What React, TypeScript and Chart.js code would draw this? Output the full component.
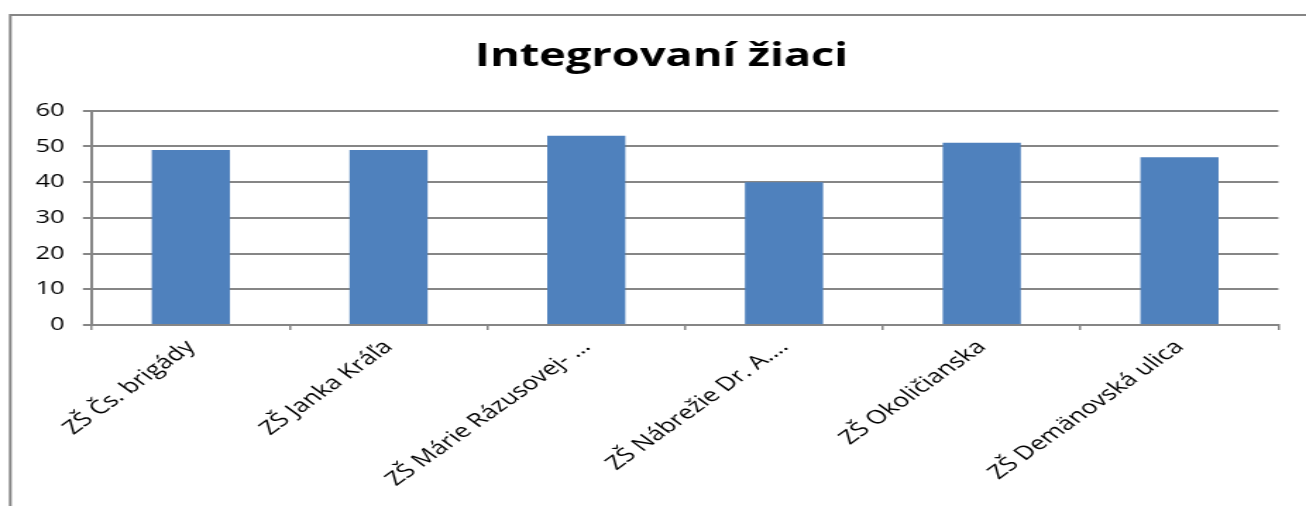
import React, { useEffect, useRef } from "react";
import { Chart, registerables } from "chart.js";

Chart.register(...registerables);

const TITLE = "Integrovaní žiaci";
const categories = [
  "ZŠ Čs. brigády",
  "ZŠ Janka Kráľa",
  "ZŠ Márie Rázusovej- …",
  "ZŠ Nábrežie Dr. A.…",
  "ZŠ Okoličianska",
  "ZŠ Demänovská ulica",
];
const values = [49, 49, 53, 40, 51, 47];
const yTicks = [0, 10, 20, 30, 40, 50, 60];

// The reference image is a chart stretched horizontally by ~1.41
const OUT_W = 1306;
const OUT_H = 506;
const BASE_W = 926;
const STRETCH = OUT_W / BASE_W;

const FONT = "'Open Sans', 'Noto Sans', sans-serif";
const GRID = "#868686";

const framePlugin = {
  id: "frame",
  beforeDraw(chart: any) {
    const ctx = chart.ctx;
    ctx.save();
    ctx.fillStyle = "#ffffff";
    ctx.fillRect(0, 0, chart.width, chart.height);
    ctx.strokeStyle = GRID;
    ctx.lineWidth = 2;
    ctx.beginPath();
    ctx.moveTo(7.3, chart.height + 10);
    ctx.lineTo(7.3, 15);
    ctx.lineTo(chart.width + 10, 15);
    ctx.stroke();
    ctx.restore();
  },
};

export default function App() {
  const ref = useRef<HTMLCanvasElement>(null);
  useEffect(() => {
    document.body.style.margin = "0";
    const chart = new Chart(ref.current!, {
      type: "bar",
      data: {
        labels: categories,
        datasets: [
          {
            data: values,
            backgroundColor: "#4F81BD",
            borderWidth: 0,
            categoryPercentage: 1,
            barPercentage: 0.395,
            yAxisID: "y",
          },
        ],
      },
      options: {
        animation: false,
        responsive: false,
        devicePixelRatio: 1,
        layout: { padding: { left: 12, right: 0, top: 0, bottom: 0 } },
        plugins: {
          legend: { display: false },
          tooltip: { enabled: false },
          title: {
            display: true,
            text: TITLE,
            color: "#000000",
            font: { family: FONT, size: 32, weight: "bold", lineHeight: 1.2 },
            padding: { top: 38, bottom: 34.3 },
          },
        },
        scales: {
          x: {
            offset: true,
            grid: {
              offset: true,
              drawOnChartArea: false,
              drawTicks: true,
              tickLength: 5,
              color: GRID,
              lineWidth: 1.5,
            },
            border: { color: GRID, width: 2 },
            ticks: {
              color: "#000000",
              font: { family: FONT, size: 19 },
              maxRotation: 45,
              minRotation: 45,
              autoSkip: false,
              padding: 6,
            },
            afterFit(scale: any) {
              scale.height = 181;
            },
          },
          y: {
            min: 0,
            max: 60,
            afterBuildTicks(scale: any) {
              scale.ticks = yTicks.map((v) => ({ value: v }));
            },
            grid: {
              color: GRID,
              lineWidth: 2,
              drawTicks: true,
              tickLength: 6.4,
            },
            border: { color: GRID, width: 2 },
            ticks: {
              color: "#000000",
              font: { family: FONT, size: 18 },
              padding: 13,
            },
            afterFit(scale: any) {
              scale.width = 53.2;
            },
          },
          spacer: {
            type: "linear",
            position: "right",
            display: true,
            grid: { display: false, drawTicks: false },
            border: { display: false },
            ticks: { display: false },
            afterFit(scale: any) {
              scale.width = 19.6;
            },
          },
        },
      },
      plugins: [framePlugin],
    });
    return () => chart.destroy();
  }, []);
  return (
    <div style={{ width: OUT_W, height: OUT_H, overflow: "hidden", position: "relative" }}>
      <canvas
        ref={ref}
        width={BASE_W}
        height={OUT_H}
        style={{
          width: BASE_W,
          height: OUT_H,
          display: "block",
          transform: `scaleX(${STRETCH})`,
          transformOrigin: "0 0",
        }}
      />
    </div>
  );
}
